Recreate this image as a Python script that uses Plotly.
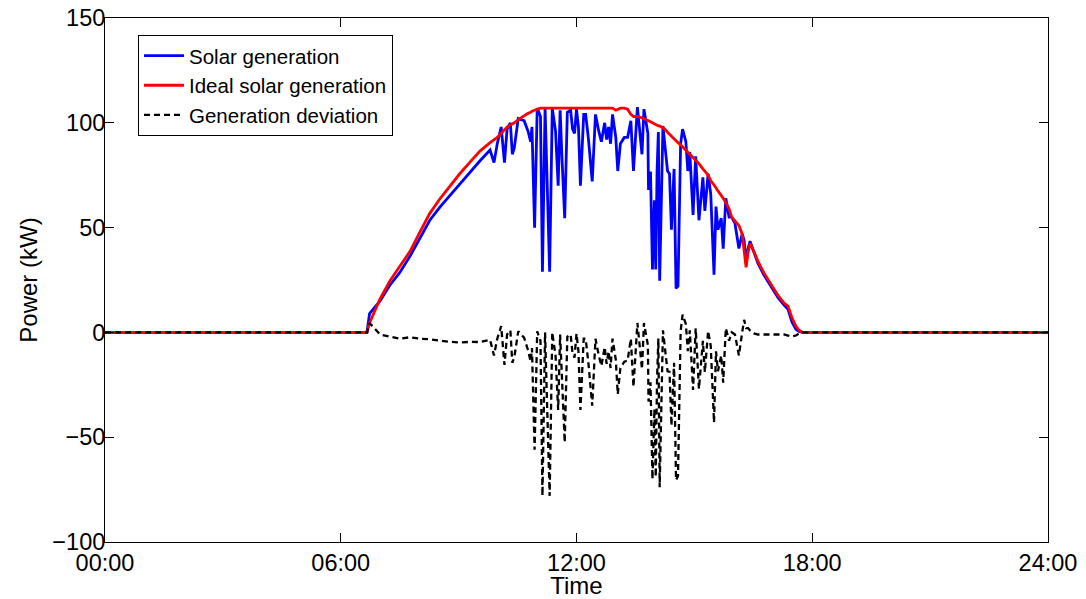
import plotly.graph_objects as go

# Time of day in minutes after midnight
minutes = [0, 400, 404, 412, 420, 435, 450, 466, 481, 496, 512, 527, 542, 558, 573,
           588, 594, 599, 605, 610, 614, 619, 622, 625, 631, 640, 646, 650, 652, 656,
           660, 665, 668, 672, 679, 683, 688, 692, 695, 698, 702, 706, 711, 714, 717,
           720, 723, 726, 731, 734, 738, 744, 749, 754, 758, 763, 766, 769, 772, 775,
           780, 783, 787, 793, 798, 803, 807, 813, 820, 823, 829, 830, 833, 836, 839,
           841, 843, 845, 847, 852, 855, 859, 862, 865, 869, 872, 875, 879, 882, 887,
           890, 893, 898, 902, 907, 913, 916, 921, 925, 930, 933, 936, 941, 944, 948,
           953, 957, 962, 965, 968, 973, 976, 979, 982, 985, 991, 997, 1006, 1017, 1028,
           1037, 1043, 1049, 1055, 1060, 1065, 1440]

# Ideal solar generation (kW)
ideal = [0, 0, 4.5, 10, 16, 24.5, 31.5, 38.8, 48, 56.8, 64, 70, 75.8, 81.5, 86.6,
         90.5, 92, 93, 95, 96.5, 98, 99, 99.5, 100, 101.5, 103.5, 104.5, 105, 105.5, 106,
         106.5, 107, 107, 107, 107, 107, 107, 107, 107, 107, 107, 107, 107, 107, 107,
         107, 107, 107, 107, 107, 107, 107, 107, 107, 107, 107, 107, 107, 107, 107,
         106, 106.5, 107, 107, 106.5, 104, 103, 103, 102.5, 102, 101, 101, 100.5, 100, 99.5,
         99, 99, 98.5, 98.5, 97.5, 97, 95.5, 94.5, 93.5, 92.5, 91.5, 90.5, 89.5, 88.5, 87,
         86, 85, 83.5, 82, 80.5, 78, 77, 75, 72.5, 70.5, 69, 67.5, 65.5, 64, 62,
         59, 55, 53, 52, 51, 47, 38, 31, 38, 42.5, 38.5, 34, 28.5, 22.7, 17.5,
         14, 12.5, 7, 3, 1, 0, 0]

# Measured solar generation (kW)
solar = [0, 0, 9, 12, 15, 22.5, 28.5, 36.5, 45, 53.5, 60, 65.5, 71, 77, 82,
         87, 81, 90, 98, 81, 97, 100, 85, 88, 102, 101, 96, 91, 98, 50,
         107, 103, 29, 107, 29, 107, 96, 70, 106, 82, 54.5, 105, 106, 97, 95,
         106.5, 98, 70, 104, 104, 93, 72, 104, 96, 91, 100, 92, 98, 90, 104,
         93, 77, 90, 93, 93, 101, 77, 107.5, 85, 106.5, 95, 68, 76.7, 30, 63,
         30, 77, 95.6, 24.6, 98.5, 90, 77, 75.7, 49, 78, 21, 22, 90, 97, 91,
         77, 86, 56, 84, 53.5, 74, 58, 75.7, 66, 27.5, 60, 49, 54.5, 40, 64,
         55, 55, 52, 46, 40, 47, 44, 33, 40, 43.5, 38, 33, 27.5, 22, 16.5,
         13, 11, 5, 1.5, 0.5, 0, 0]

series_names = ["Solar generation", "Ideal solar generation", "Generation deviation"]
tick_hours = [0, 6, 12, 18, 24]
tick_labels = ["00:00", "06:00", "12:00", "18:00", "24:00"]
y_ticks = [-100, -50, 0, 50, 100, 150]

hours = [m / 60 for m in minutes]
deviation = [s - i for s, i in zip(solar, ideal)]

fig = go.Figure()
fig.add_trace(go.Scatter(x=hours, y=solar, mode="lines", name=series_names[0],
                         legendgroup="a", line=dict(color="#0000ff", width=2.8)))
fig.add_trace(go.Scatter(x=hours, y=ideal, mode="lines", name=series_names[1],
                         legendgroup="b", line=dict(color="#ff0000", width=2.8)))
fig.add_trace(go.Scatter(x=hours, y=deviation, mode="lines", name=series_names[2],
                         legendgroup="c",
                         line=dict(color="#000000", width=2.3, dash="6px,4px")))

font_family = "Liberation Sans, Arial, Helvetica, sans-serif"
fig.update_layout(
    width=1078, height=591,
    margin=dict(l=97, r=38, t=10, b=57),
    paper_bgcolor="white", plot_bgcolor="white",
    font=dict(family=font_family, size=23.5, color="black"),
    showlegend=True,
    legend=dict(x=0.035, y=0.968, xanchor="left", yanchor="top",
                bgcolor="white", bordercolor="black", borderwidth=1,
                font=dict(size=20.5, color="black"), tracegroupgap=0,
                itemwidth=40),
    xaxis=dict(range=[0, 24], tickvals=tick_hours, ticktext=tick_labels,
               ticks="inside", ticklen=9, tickcolor="black", tickwidth=1,
               showline=True, linecolor="black", linewidth=1, mirror="ticks",
               showgrid=False, zeroline=False, ticklabelstandoff=0,
               ticklabeloverflow="allow",
               title=dict(text="Time", standoff=8, font=dict(size=24)),
               automargin=False),
    yaxis=dict(range=[-100, 150], tickvals=y_ticks,
               ticks="inside", ticklen=9, tickcolor="black", tickwidth=1,
               showline=True, linecolor="black", linewidth=1, mirror="ticks",
               showgrid=False, zeroline=False, ticklabelstandoff=-6,
               ticklabeloverflow="allow",
               title=dict(text="Power (kW)", standoff=7, font=dict(size=24)),
               automargin=False),
)

fig.write_html("out.html")
